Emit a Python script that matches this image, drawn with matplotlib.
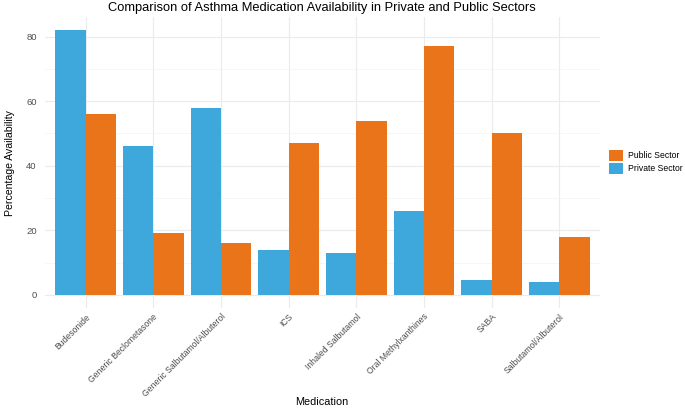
import matplotlib
matplotlib.use('Agg')
import matplotlib.pyplot as plt
import numpy as np

# 数据
medications = ['Budesonide', 'Generic Beclometasone', 'Generic Salbutamol/Albuterol', 'ICS',
               'Inhaled Salbutamol', 'Oral Methylxanthines', 'SABA', 'Salbutamol/Albuterol']
private_sector = [82, 46, 58, 14, 13, 26, 4.5, 4]
public_sector = [56, 19, 16, 47, 54, 77, 50, 18]

BLUE = '#3EA8DD'
ORANGE = '#EA7419'

plt.rcParams['font.family'] = ['Liberation Sans', 'DejaVu Sans']

fig = plt.figure(figsize=(6.85, 4.09), dpi=100)
ax = fig.add_axes([45 / 685, 1 - 308 / 409, 555 / 685, 291 / 409])

x = np.arange(1, len(medications) + 1)
w = 0.45
ax.bar(x - w / 2, private_sector, width=w, color=BLUE, label='Private Sector', zorder=2)
ax.bar(x + w / 2, public_sector, width=w, color=ORANGE, label='Public Sector', zorder=2)

ax.set_xlim(0.4, len(medications) + 0.6)
ymax = max(max(private_sector), max(public_sector))
ax.set_ylim(-0.05 * ymax, 1.05 * ymax)

ax.set_yticks([0, 20, 40, 60, 80])
ax.set_yticks([10, 30, 50, 70], minor=True)
ax.set_xticks(x)
ax.set_xticklabels(medications, rotation=45, ha='right', rotation_mode='anchor',
                   fontsize=6.2, color='#4d4d4d')
ax.tick_params(axis='y', labelsize=6.8, labelcolor='#4d4d4d', length=0, pad=6)
ax.tick_params(axis='x', length=0, pad=3)
ax.tick_params(which='minor', length=0)

ax.grid(True, which='major', color='#EBEBEB', linewidth=0.8, zorder=0)
ax.grid(True, which='minor', axis='y', color='#F3F3F3', linewidth=0.5, zorder=0)
for s in ax.spines.values():
    s.set_visible(False)

# 标题和坐标轴标题（手动定位）
fig.text(322 / 685, 1 - 8 / 409,
         'Comparison of Asthma Medication Availability in Private and Public Sectors',
         fontsize=9.3, ha='center', va='center')
fig.text(322 / 685, 1 - 402 / 409, 'Medication', fontsize=7.8, ha='center', va='center')
fig.text(10 / 685, 1 - 163 / 409, 'Percentage Availability', fontsize=7.6,
         ha='center', va='center', rotation=90)

handles, labels = ax.get_legend_handles_labels()
leg = fig.legend(handles[::-1], labels[::-1], loc='center left',
                 bbox_to_anchor=(601 / 685, 1 - 162 / 409), frameon=False,
                 fontsize=6.2, handlelength=1.6, handleheight=1.6,
                 labelspacing=0.25, handletextpad=0.6)

fig.savefig('out.png', dpi=100, facecolor='white')
